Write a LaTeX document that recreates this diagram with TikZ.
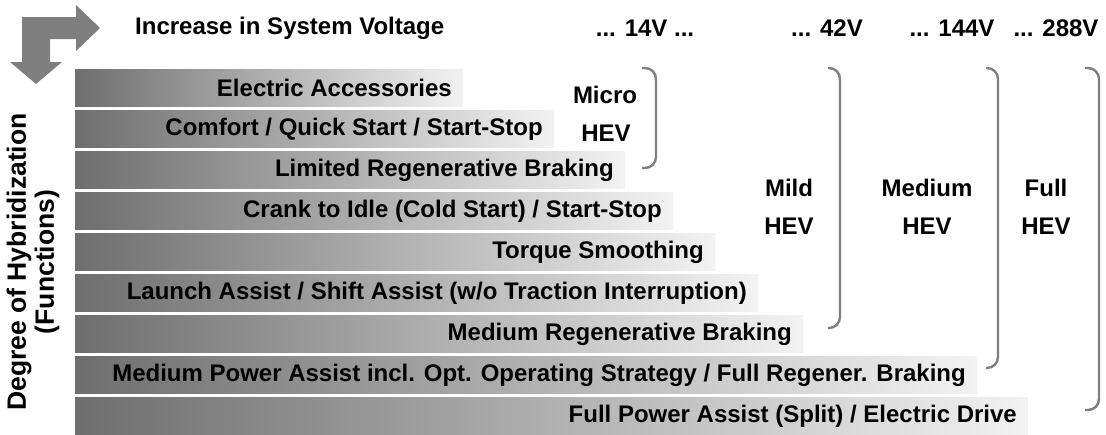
\documentclass[tikz,border=0pt]{standalone}
\usepackage{fontspec}
\setmainfont{Liberation Sans}
\usepackage{tikz}

\definecolor{bardark}{HTML}{6E6E6E}
\definecolor{barlight}{HTML}{F2F2F2}
\definecolor{brackgray}{HTML}{7F7F7F}

\tikzset{
  bar/.style={left color=bardark, right color=barlight},
  func/.style={anchor=east, inner sep=0pt, font=\fontsize{24}{28}\selectfont\bfseries},
  hev/.style={inner sep=0pt, font=\fontsize{24}{28}\selectfont\bfseries},
  brack/.style={draw=brackgray, line width=2.4pt, rounded corners=11pt},
}

\begin{document}
\begin{tikzpicture}[x=1pt, y=-1pt]
  \useasboundingbox (0,0) rectangle (1106,434);
  % Knickpfeil oben links
  \fill[brackgray] (22,17) -- (76,17) -- (76,5) -- (100,28) -- (76,51) -- (76,39)
    -- (50,39) -- (50,62) -- (62,62) -- (36,84) -- (10,62) -- (22,62) -- cycle;

  % Spannung (oben)
  \node[hev, anchor=west] (volt) at (135,28) {Increase in System Voltage};
  \node[hev] (v14) at (645,28) {... 14V ...};
  \node[hev] (v42) at (827,28) {... 42V};
  \node[hev] (v144) at (952,28) {... 144V};
  \node[hev] (v288) at (1056,28) {... 288V};

  % Achse links
  \node[hev, rotate=90, font=\fontsize{26.5}{28}\selectfont\bfseries, align=center] (degree) at (33,262)
    {Degree of Hybridization\\(Functions)};

  % Funktionsbalken
  \shade[bar] (75,69) rectangle (463,106.5);
  \node[func] (acc) at (452,88) {Electric Accessories};
  \shade[bar] (75,110) rectangle (554,147.5);
  \node[func] (comfort) at (543,129) {Comfort / Quick Start / Start-Stop};
  \shade[bar] (75,151) rectangle (625,188.5);
  \node[func] (limreg) at (614,170) {Limited Regenerative Braking};
  \shade[bar] (75,192) rectangle (673,229.5);
  \node[func] (crank) at (662,211) {Crank to Idle (Cold Start) / Start-Stop};
  \shade[bar] (75,233) rectangle (715,270.5);
  \node[func] (torque) at (704,252) {Torque Smoothing};
  \shade[bar] (75,274) rectangle (758,311.5);
  \node[func] (launch) at (747,293) {Launch Assist / Shift Assist (w/o Traction Interruption)};
  \shade[bar] (75,315) rectangle (803,352.5);
  \node[func] (medreg) at (792,334) {Medium Regenerative Braking};
  \shade[bar] (75,356) rectangle (977,393.5);
  \node[func] (medpow) at (966,375) {Medium Power Assist incl. Opt. Operating Strategy / Full Regener. Braking};
  \shade[bar] (75,397) rectangle (1028,434.5);
  \node[func] (fullpow) at (1017,416) {Full Power Assist (Split) / Electric Drive};

  % Klammern und HEV-Klassen
  \draw[brack] (642,68) -- (656,68) -- (656,168) -- (642,168);
  \node[hev] (micro) at (605,95) {Micro};
  \node[hev] (microhev) at (606,133) {HEV};

  \draw[brack] (828,68) -- (840,68) -- (840,328) -- (828,328);
  \node[hev] (mild) at (789,188) {Mild};
  \node[hev] (mildhev) at (789,226) {HEV};

  \draw[brack] (986,68) -- (998,68) -- (998,368) -- (986,368);
  \node[hev] (medium) at (927,188) {Medium};
  \node[hev] (mediumhev) at (927,226) {HEV};

  \draw[brack] (1085,68) -- (1099,68) -- (1099,410) -- (1085,410);
  \node[hev] (full) at (1046,188) {Full};
  \node[hev] (fullhev) at (1046,226) {HEV};
\end{tikzpicture}
\end{document}
